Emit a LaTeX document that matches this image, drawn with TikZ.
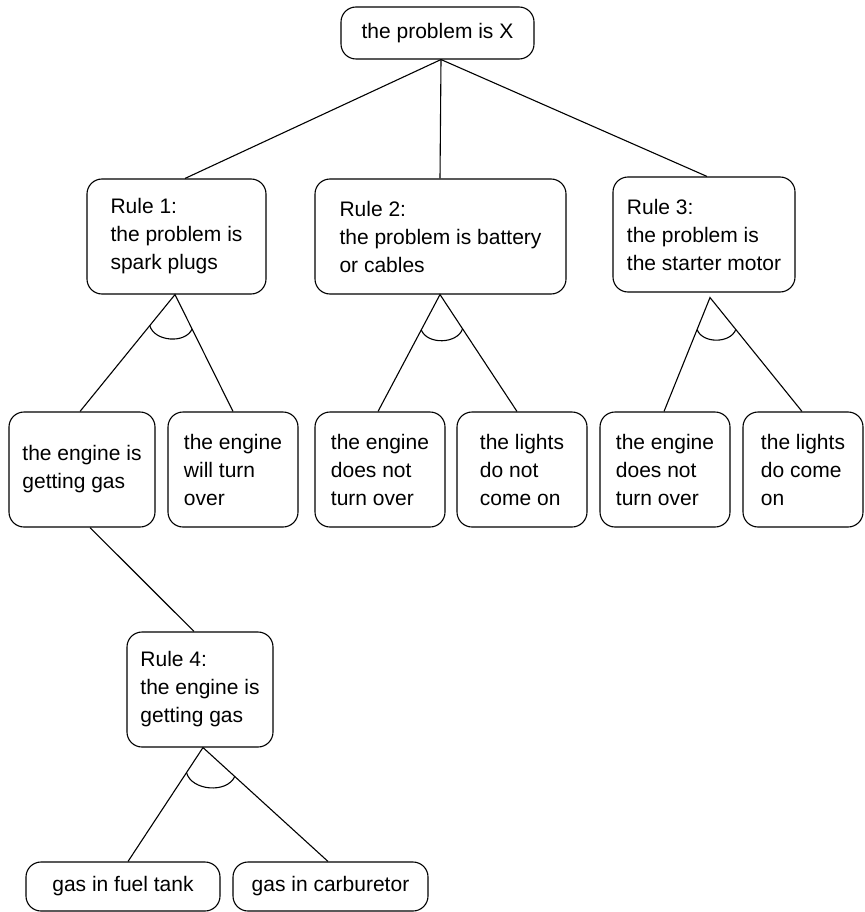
\documentclass[tikz,border=0pt]{standalone}
\usepackage{fontspec}
\setmainfont{Liberation Sans}
\usetikzlibrary{calc}
\begin{document}
\begin{tikzpicture}[x=1pt,y=-1pt,
  box/.style={draw, rounded corners=15pt, line width=1.1pt, align=left, inner sep=0pt,
    font=\fontsize{21}{28}\selectfont},
  conn/.style={line width=1.1pt},
  andarc/.style={line width=1.1pt, bend right=70},
]
\useasboundingbox (0,0) rectangle (864,912);
% nodes
\node[box, minimum width=193pt, minimum height=52pt] (top) at (437.5,33) {the problem is X};
\node[box, minimum width=179pt, minimum height=115pt] (r1) at (176.5,236.5) {Rule 1:\\the problem is\\spark plugs};
\node[box, minimum width=251pt, minimum height=115pt] (r2) at (440.5,236.5) {Rule 2:\\the problem is battery\\or cables};
\node[box, minimum width=182pt, minimum height=115pt] (r3) at (704,234.5) {Rule 3:\\the problem is\\the starter motor};
\node[box, minimum width=146pt, minimum height=115pt] (l1) at (82,469.5) {the engine is\\getting gas};
\node[box, minimum width=130pt, minimum height=115pt] (l2) at (233,469.5) {the engine\\will turn\\over};
\node[box, minimum width=130pt, minimum height=115pt] (l3) at (380,469.5) {the engine\\does not\\turn over};
\node[box, minimum width=130pt, minimum height=115pt] (l4) at (522,469.5) {the lights\\do not\\come on};
\node[box, minimum width=130pt, minimum height=115pt] (l5) at (665,469.5) {the engine\\does not\\turn over};
\node[box, minimum width=120pt, minimum height=115pt] (l6) at (803,469.5) {the lights\\do come\\on};
\node[box, minimum width=146pt, minimum height=115pt] (r4) at (200,689.5) {Rule 4:\\the engine is\\getting gas};
\node[box, minimum width=194pt, minimum height=49pt] (b1) at (123,886.5) {gas in fuel tank};
\node[box, minimum width=195pt, minimum height=49pt] (b2) at (330.5,886.5) {gas in carburetor};
% connection points
\coordinate (topB) at ($(top.south)+(3.5,0)$);
\coordinate (r1T) at ($(r1.north)+(8.5,0)$);
\coordinate (r2T) at ($(r2.north)+(-0.5,0)$);
\coordinate (r3T) at ($(r3.north)+(3,0)$);
\coordinate (r1A) at ($(r1.south)+(-1.5,0)$);
\coordinate (r2A) at ($(r2.south)+(-0.5,0)$);
\coordinate (r3A) at ($(r3.south)+(6,5)$);
\coordinate (l1T) at ($(l1.north)+(-2,0)$);
\coordinate (l2T) at ($(l2.north)+(0,0)$);
\coordinate (l3T) at ($(l3.north)+(-2,0)$);
\coordinate (l4T) at ($(l4.north)+(-5,0)$);
\coordinate (l5T) at ($(l5.north)+(-1,0)$);
\coordinate (l6T) at ($(l6.north)+(-1,0)$);
\coordinate (l1B) at ($(l1.south)+(8,0)$);
\coordinate (r4T) at ($(r4.north)+(-6,0)$);
\coordinate (r4A) at ($(r4.south)+(3,0)$);
\coordinate (b1T) at ($(b1.north)+(5,0)$);
\coordinate (b2T) at ($(b2.north)+(-2.5,0)$);
% connectors
\draw[conn] (r1T) -- (topB) -- (r3T);
\draw[conn] (topB) -- (r2T);
\draw[conn] (l1T) -- (r1A) -- (l2T);
\draw[conn] (l3T) -- (r2A) -- (l4T);
\draw[conn] (l5T) -- (r3A) -- (l6T);
\draw[conn] (l1B) -- (r4T);
\draw[conn] (b1T) -- (r4A) -- (b2T);
% and-arcs
\draw[andarc] ($(r1A)!40pt!(l1T)$) to ($(r1A)!38.5pt!(l2T)$);
\draw[andarc] ($(r2A)!40pt!(l3T)$) to ($(r2A)!41pt!(l4T)$);
\draw[andarc] ($(r3A)!34.5pt!(l5T)$) to ($(r3A)!41pt!(l6T)$);
\draw[andarc] ($(r4A)!30pt!(b1T)$) to ($(r4A)!43pt!(b2T)$);
\end{tikzpicture}
\end{document}
